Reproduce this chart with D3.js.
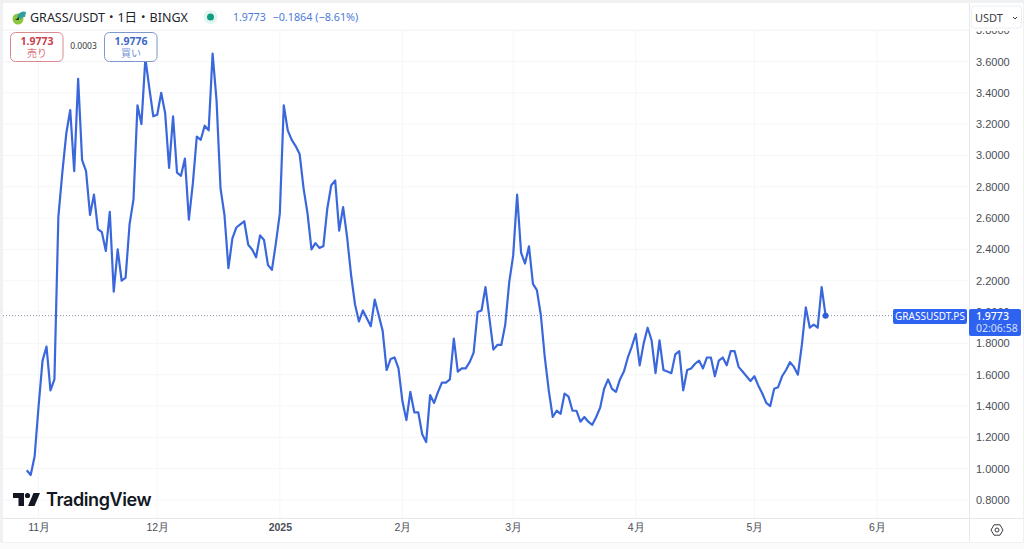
<!DOCTYPE html>
<html>
<head>
<meta charset="utf-8">
<script src="https://cdn.jsdelivr.net/npm/d3@7"></script>
<style>
  html, body { margin: 0; padding: 0; background: #fff; overflow: hidden; }
  svg { display: block; font-family: "Noto Sans", "Noto Sans CJK JP", sans-serif; }
</style>
</head>
<body>
<div id="chart"></div>
<script>
// daily close, 2024-10-29 .. 2025-05-19
const closes = [
  0.99, 0.96, 1.08, 1.40, 1.69, 1.78, 1.50, 1.57, 2.61, 2.89,
  3.14, 3.29, 2.90, 3.49, 2.97, 2.90, 2.62, 2.75, 2.53, 2.51,
  2.39, 2.64, 2.13, 2.40, 2.20, 2.22, 2.56, 2.72, 3.32, 3.20,
  3.62, 3.43, 3.25, 3.26, 3.40, 3.27, 2.92, 3.25, 2.89, 2.87,
  2.98, 2.59, 2.82, 3.12, 3.10, 3.19, 3.16, 3.65, 3.35, 2.79,
  2.62, 2.28, 2.47, 2.54, 2.56, 2.58, 2.43, 2.40, 2.35, 2.49,
  2.46, 2.30, 2.27, 2.44, 2.63, 3.32, 3.16, 3.10, 3.06, 3.01,
  2.79, 2.63, 2.40, 2.44, 2.41, 2.42, 2.66, 2.81, 2.84, 2.52,
  2.67, 2.48, 2.24, 2.05, 1.94, 2.01, 1.96, 1.91, 2.08, 1.98,
  1.88, 1.63, 1.70, 1.71, 1.64, 1.43, 1.31, 1.49, 1.36, 1.36,
  1.22, 1.17, 1.47, 1.42, 1.49, 1.55, 1.55, 1.57, 1.83, 1.62,
  1.64, 1.64, 1.68, 1.74, 2.00, 2.01, 2.16, 1.96, 1.76, 1.79,
  1.79, 1.92, 2.19, 2.36, 2.75, 2.38, 2.31, 2.42, 2.18, 2.14,
  1.98, 1.71, 1.50, 1.33, 1.37, 1.35, 1.48, 1.46, 1.37, 1.37,
  1.30, 1.33, 1.30, 1.28, 1.33, 1.39, 1.51, 1.57, 1.51, 1.49,
  1.57, 1.62, 1.71, 1.78, 1.86, 1.66, 1.80, 1.90, 1.82, 1.61,
  1.82, 1.63, 1.62, 1.61, 1.73, 1.75, 1.50, 1.63, 1.64, 1.67,
  1.69, 1.64, 1.71, 1.71, 1.59, 1.69, 1.71, 1.66, 1.75, 1.75,
  1.65, 1.62, 1.59, 1.56, 1.59, 1.53, 1.48, 1.42, 1.40, 1.51,
  1.52, 1.59, 1.63, 1.68, 1.65, 1.60, 1.79, 2.03, 1.90, 1.92,
  1.90, 2.16, 1.9773
];
const firstDay = new Date(Date.UTC(2024, 9, 29));
const priceTicks = [0.8, 1.0, 1.2, 1.4, 1.6, 1.8, 2.0, 2.2, 2.4, 2.6, 2.8, 3.0, 3.2, 3.4, 3.6, 3.8];
const monthTicks = [
  new Date(Date.UTC(2024, 10, 1)), new Date(Date.UTC(2024, 11, 1)), new Date(Date.UTC(2025, 0, 1)),
  new Date(Date.UTC(2025, 1, 1)), new Date(Date.UTC(2025, 2, 1)), new Date(Date.UTC(2025, 3, 1)),
  new Date(Date.UTC(2025, 4, 1)), new Date(Date.UTC(2025, 5, 1))
];
const monthLabels = ["11月", "12月", "2025", "2月", "3月", "4月", "5月", "6月"];
const lastPrice = 1.9773;

const width = 1024, height = 549;
const paneLeft = 3, paneRight = 969, paneTop = 30, paneBottom = 518;
const lineColor = "#3a68dc", gridColor = "#f5f6f8", borderColor = "#e6e8ec";

const points = closes.map((c, i) => ({date: d3.utcDay.offset(firstDay, i), close: c}));

const x = d3.scaleUtc()
  .domain([monthTicks[0], monthTicks[7]])
  .range([38.6, 877]);
const y = d3.scaleLinear()
  .domain([0.8, 3.6])
  .range([500, 61.5]);

const svg = d3.select("#chart").append("svg")
  .attr("width", width)
  .attr("height", height)
  .attr("viewBox", [0, 0, width, height]);

// outer frame of the widget
svg.append("rect").attr("width", width).attr("height", height).attr("fill", "#f0f1f3");
svg.append("rect").attr("x", paneLeft).attr("y", 3).attr("width", width - paneLeft - 1).attr("height", 539).attr("fill", "#fff");
svg.append("rect").attr("x", 0).attr("y", 543).attr("width", width).attr("height", 6).attr("fill", "#fbfbfc");

svg.append("clipPath").attr("id", "pane").append("rect")
  .attr("x", paneLeft).attr("y", paneTop).attr("width", paneRight - paneLeft).attr("height", paneBottom - paneTop);
svg.append("clipPath").attr("id", "scale").append("rect")
  .attr("x", paneRight).attr("y", 31).attr("width", width - paneRight).attr("height", paneBottom - 31);

// grid
const grid = svg.append("g").attr("clip-path", "url(#pane)");
grid.selectAll(".h").data(priceTicks).join("line")
  .attr("x1", paneLeft).attr("x2", paneRight)
  .attr("y1", d => y(d)).attr("y2", d => y(d))
  .attr("stroke", gridColor);
grid.selectAll(".v").data(monthTicks).join("line")
  .attr("x1", d => x(d)).attr("x2", d => x(d))
  .attr("y1", paneTop).attr("y2", paneBottom)
  .attr("stroke", gridColor);

// borders
svg.append("line").attr("x1", paneLeft).attr("x2", width - 1).attr("y1", paneBottom + 0.5).attr("y2", paneBottom + 0.5).attr("stroke", borderColor);
svg.append("line").attr("x1", paneRight + 0.5).attr("x2", paneRight + 0.5).attr("y1", 3).attr("y2", 542).attr("stroke", borderColor);
svg.append("line").attr("x1", paneLeft).attr("x2", paneRight).attr("y1", paneTop).attr("y2", paneTop).attr("stroke", "#f3f4f6");

// last price line
svg.append("line")
  .attr("x1", paneLeft).attr("x2", 893)
  .attr("y1", y(lastPrice)).attr("y2", y(lastPrice))
  .attr("stroke", "#8c93a8")
  .attr("stroke-dasharray", "1 2");

// price line
const line = d3.line().x(d => x(d.date)).y(d => y(d.close));
svg.append("path")
  .datum(points)
  .attr("fill", "none")
  .attr("stroke", lineColor)
  .attr("stroke-width", 2.2)
  .attr("stroke-linejoin", "round")
  .attr("d", line);
svg.append("circle")
  .attr("cx", x(points[points.length - 1].date))
  .attr("cy", y(lastPrice))
  .attr("r", 3)
  .attr("fill", "#2f5fd8");

// axes
const yAxis = d3.axisRight(y)
  .tickValues(priceTicks)
  .tickFormat(d3.format(".4f"))
  .tickSize(0)
  .tickPadding(0);
const yG = svg.append("g").attr("clip-path", "url(#scale)").append("g").attr("transform", `translate(976,0)`).call(yAxis);
yG.select(".domain").remove();
yG.selectAll("text").attr("font-size", 11).attr("fill", "#4a4e58").attr("font-family", null);

const xAxis = d3.axisBottom(x)
  .tickValues(monthTicks)
  .tickFormat((d, i) => monthLabels[i])
  .tickSize(0)
  .tickPadding(0);
const xG = svg.append("g").attr("transform", `translate(0,524)`).call(xAxis);
xG.select(".domain").remove();
xG.selectAll("text")
  .attr("font-size", 10.5)
  .attr("fill", "#4a4e58")
  .attr("font-family", null)
  .attr("font-weight", d => +d === +monthTicks[2] ? 700 : 400);

// last price labels
const tag = svg.append("g");
tag.append("rect").attr("x", 893).attr("y", 309).attr("width", 74).attr("height", 15).attr("rx", 2).attr("fill", "#2e62f0");
tag.append("text").attr("x", 930).attr("y", 320).attr("text-anchor", "middle").attr("font-size", 10).attr("fill", "#fff").text("GRASSUSDT.PS");
tag.append("rect").attr("x", 969).attr("y", 309).attr("width", 52).attr("height", 27).attr("rx", 2).attr("fill", "#2e62f0");
tag.append("text").attr("x", 976).attr("y", 320).attr("font-size", 10.5).attr("font-weight", 500).attr("fill", "#fff").text("1.9773");
tag.append("text").attr("x", 976).attr("y", 332).attr("font-size", 10.5).attr("fill", "#d5e0fb").text("02:06:58");

// currency selector
svg.append("rect").attr("x", 971.5).attr("y", 6).attr("width", 50).attr("height", 22).attr("rx", 3).attr("fill", "#fff").attr("stroke", "#eceef1");
svg.append("text").attr("x", 975).attr("y", 22).attr("font-size", 11).attr("fill", "#3a3d46").text("USDT");
svg.append("path").attr("d", "M1013 17l2 2 2-2").attr("fill", "none").attr("stroke", "#3a3d46").attr("stroke-width", 1);

// header
const logo = svg.append("g");
logo.append("circle").attr("cx", 18).attr("cy", 19).attr("r", 5.5).attr("fill", "#8cc63f");
logo.append("path").attr("d", "M17 17 a7 7 0 0 1 9-5 l-1 5 a4 4 0 0 0-4 2z").attr("fill", "#2f9e9e");
logo.append("path").attr("d", "M15 20l4-3 0 3z").attr("fill", "#1f3b1f");
svg.append("text").attr("x", 30).attr("y", 22).attr("font-size", 12.5).attr("fill", "#24262d").text("GRASS/USDT・1日・BINGX");
svg.append("circle").attr("cx", 210.5).attr("cy", 17).attr("r", 7).attr("fill", "#e3f5f1");
svg.append("circle").attr("cx", 210.5).attr("cy", 17).attr("r", 3.5).attr("fill", "#0f9d84");
svg.append("text").attr("x", 233).attr("y", 21).attr("font-size", 10.5).attr("fill", "#4a7bd8").text("1.9773");
svg.append("text").attr("x", 272.5).attr("y", 21).attr("font-size", 10.8).attr("fill", "#4a7bd8").text("−0.1864 (−8.61%)");

// sell / buy buttons
const buttons = [
  {x: 10, price: "1.9773", label: "売り", stroke: "#d98a8f", strong: "#c8414c", soft: "#d9737b"},
  {x: 104, price: "1.9776", label: "買い", stroke: "#7d97cf", strong: "#3d68c8", soft: "#6f90d4"}
];
buttons.forEach(b => {
  svg.append("rect").attr("x", b.x + 0.5).attr("y", 32.5).attr("width", 52.5).attr("height", 29).attr("rx", 5).attr("fill", "#fff").attr("stroke", b.stroke);
  svg.append("text").attr("x", b.x + 27).attr("y", 45).attr("text-anchor", "middle").attr("font-size", 10.5).attr("font-weight", 700).attr("fill", b.strong).text(b.price);
  svg.append("text").attr("x", b.x + 27).attr("y", 57).attr("text-anchor", "middle").attr("font-size", 10).attr("fill", b.soft).text(b.label);
});
svg.append("text").attr("x", 83.5).attr("y", 49).attr("text-anchor", "middle").attr("font-size", 8.5).attr("fill", "#33363e").text("0.0003");

// TradingView mark
const mark = svg.append("g").attr("fill", "#131722");
mark.append("path").attr("d", "M13 493h11v13h-5.5v-8H13z");
mark.append("circle").attr("cx", 27.5).attr("cy", 495.5).attr("r", 2.6);
mark.append("path").attr("d", "M33.5 493H40l-5.5 13H28z");
svg.append("text").attr("x", 46).attr("y", 506).attr("font-size", 18).attr("font-weight", 600).attr("fill", "#131722").attr("font-family", "Inter, 'Noto Sans', sans-serif").attr("letter-spacing", -0.4).text("TradingView");

// settings icon
svg.append("path")
  .attr("d", "M991 530l3-5.2h6l3 5.2-3 5.2h-6z")
  .attr("fill", "none").attr("stroke", "#3a3d46").attr("stroke-width", 1);
svg.append("circle").attr("cx", 997).attr("cy", 530).attr("r", 2).attr("fill", "none").attr("stroke", "#3a3d46");
</script>
</body>
</html>
